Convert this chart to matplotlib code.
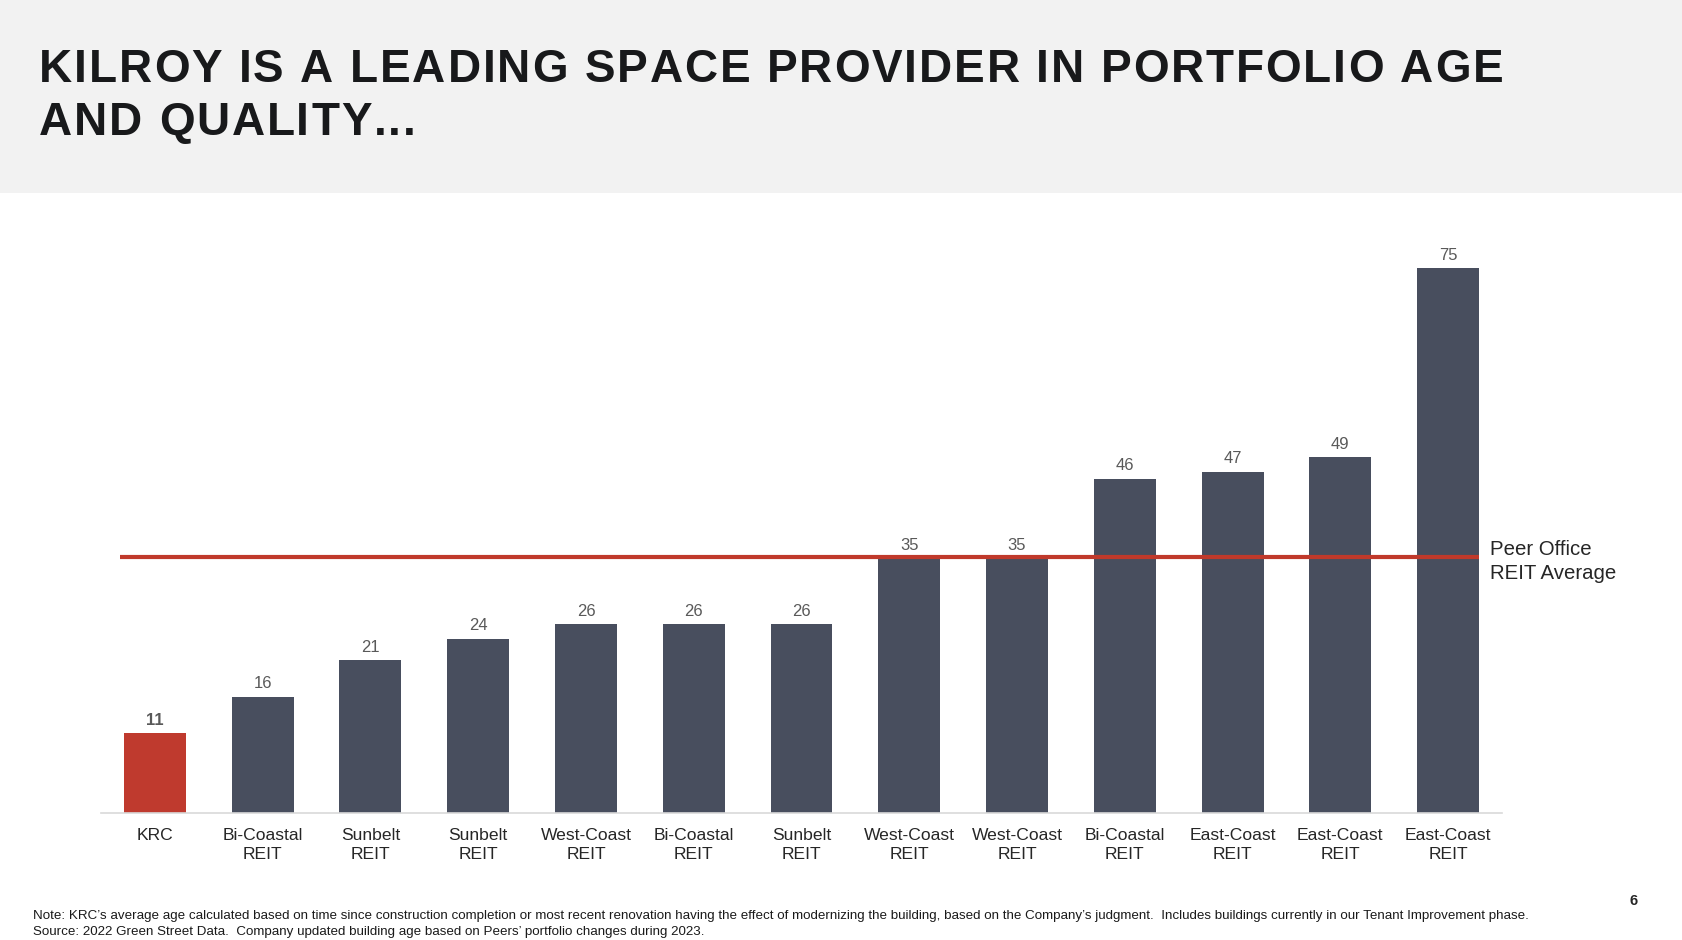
import matplotlib.pyplot as plt
from matplotlib import font_manager
from matplotlib.font_manager import FontProperties
from matplotlib.ft2font import FT2Font
import matplotlib.patches as patches

plt.rcParams['font.family'] = ['Liberation Sans', 'DejaVu Sans']

categories = ['KRC', 'Bi-Coastal\nREIT', 'Sunbelt\nREIT', 'Sunbelt\nREIT', 'West-Coast\nREIT',
              'Bi-Coastal\nREIT', 'Sunbelt\nREIT', 'West-Coast\nREIT', 'West-Coast\nREIT',
              'Bi-Coastal\nREIT', 'East-Coast\nREIT', 'East-Coast\nREIT', 'East-Coast\nREIT']
ages = [11, 16, 21, 24, 26, 26, 26, 35, 35, 46, 47, 49, 75]
peer_avg = 35.2

title_lines = ['KILROY IS A LEADING SPACE PROVIDER IN PORTFOLIO AGE', 'AND QUALITY...']
note_lines = ["Note: KRC\u2019s average age calculated based on time since construction completion or most recent renovation "
              "having the effect of modernizing the building, based on the Company\u2019s judgment.  Includes buildings "
              "currently in our Tenant Improvement phase.",
              "Source: 2022 Green Street Data.  Company updated building age based on Peers\u2019 portfolio changes during 2023."]

W, H = 1682, 940
fig = plt.figure(figsize=(W / 100, H / 100), dpi=100)
fig.patch.set_facecolor('white')

# grey header band
fig.patches.append(patches.Rectangle((0, 1 - 193 / H), 1, 193 / H, transform=fig.transFigure,
                                     facecolor='#f2f2f2', edgecolor='none', zorder=0))

# title with letter spacing
fp = FontProperties(family='Liberation Sans', weight='bold')
font = FT2Font(font_manager.findfont(fp))
tsize = 33
font.set_size(tsize, 100)


def advances(s):
    out = []
    for ch in s:
        g = font.load_char(ord(ch))
        out.append(g.linearHoriAdvance / 65536)
    return out


adv1 = advances(title_lines[0])
track = (1462 - sum(adv1[:-1]) - adv1[-1] * 0.93) / (len(adv1) - 1)
for line, base in zip(title_lines, [81.7, 135]):
    x = 39
    for ch, a in zip(line, advances(line)):
        fig.text(x / W, 1 - base / H, ch, fontsize=tsize, fontweight='bold', color='#18191b',
                 ha='left', va='baseline')
        x += a + track

ax = fig.add_axes([101 / W, 127 / H, 1401 / W, 581 / H])
x = range(len(ages))
colors = ['#bf3a2e'] + ['#484e5e'] * (len(ages) - 1)
bars = ax.bar(x, ages, width=0.575, color=colors, zorder=2)
ax.set_xlim(-0.5, 12.5)
ax.set_ylim(0, 80)

for i, (b, v) in enumerate(zip(bars, ages)):
    ax.annotate(str(v), (b.get_x() + b.get_width() / 2, v), xytext=(0, 4), textcoords='offset points',
                ha='center', va='bottom', fontsize=12, color='#595959',
                fontweight='bold' if i == 0 else 'normal')

ax.hlines(peer_avg, -0.32, 12.29, color='#c0392b', linewidth=3, zorder=3)
ax.annotate('Peer Office\nREIT Average', (12.39, peer_avg), xytext=(0, -3), textcoords='offset points',
            fontsize=14.7, color='#262626', ha='left', va='center', linespacing=1.38)

ax.set_xticks(list(x))
ax.set_xticklabels(categories, fontsize=12.6, color='#262626', linespacing=1.35)
ax.tick_params(axis='x', length=0, pad=11)
ax.set_yticks([])
for s in ['top', 'right', 'left']:
    ax.spines[s].set_visible(False)
ax.spines['bottom'].set_color('#d9d9d9')
ax.spines['bottom'].set_linewidth(1.2)
ax.set_facecolor('none')

fig.text(33 / W, 1 - 916 / H, note_lines[0], fontsize=9.6, color='#1a1a1a', ha='left', va='center')
fig.text(33 / W, 1 - 932 / H, note_lines[1], fontsize=9.6, color='#1a1a1a', ha='left', va='center')
fig.text(1634 / W, 1 - 901 / H, '6', fontsize=10.5, fontweight='bold', color='#262626', ha='center', va='center')

fig.savefig('out.png', dpi=100, facecolor='white')
